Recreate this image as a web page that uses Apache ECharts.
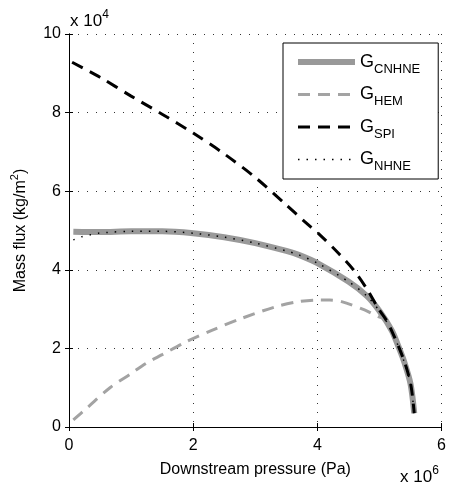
<!DOCTYPE html>
<html>
<head>
<meta charset="utf-8">
<script src="https://cdn.jsdelivr.net/npm/echarts@6/dist/echarts.min.js"></script>
<style>
  html, body { margin: 0; padding: 0; background: #fff; }
  #chart { width: 449px; height: 488px; }
</style>
</head>
<body>
<div id="chart"></div>
<script>
// pressure in units of 1e6 Pa, mass flux in units of 1e4 kg/m2/s
const cnhnePressure = [0.07, 0.5, 1.0, 1.5, 2.0, 2.5, 3.0, 3.5, 3.7, 4.0, 4.5, 4.8, 5.0, 5.2, 5.3, 5.4, 5.5, 5.56];
const cnhneFlux = [4.97, 4.96, 4.98, 4.98, 4.93, 4.83, 4.68, 4.48, 4.38, 4.17, 3.7, 3.33, 2.95, 2.45, 2.07, 1.65, 1.1, 0.35];

const hemPressure = [0.07, 0.3, 0.66, 1.0, 1.25, 1.5, 1.89, 2.3, 2.79, 3.33, 3.7, 4.0, 4.2, 4.39, 4.76, 4.98, 5.1];
const hemFlux = [0.18, 0.5, 1.0, 1.36, 1.63, 1.84, 2.17, 2.46, 2.77, 3.06, 3.19, 3.23, 3.23, 3.19, 2.98, 2.81, 2.75];

const spiPressure = [0.05, 0.5, 1.0, 1.5, 2.0, 2.5, 3.0, 3.5, 3.8, 4.04, 4.34, 4.58, 4.79, 4.98, 5.11, 5.19, 5.32, 5.43, 5.51, 5.56];
const spiFlux = [9.28, 8.9, 8.42, 7.96, 7.48, 6.95, 6.35, 5.65, 5.22, 4.89, 4.42, 4.0, 3.53, 3.02, 2.72, 2.47, 2.0, 1.53, 1.03, 0.35];

const nhnePressure = [0.07, 0.2, 0.34, 0.47, 0.6, 1.0, 1.5, 2.0, 2.5, 3.0, 3.5, 3.7, 4.0, 4.5, 4.8, 5.0, 5.2, 5.3, 5.4, 5.5, 5.56];
const nhneFlux = [4.76, 4.84, 4.89, 4.93, 4.95, 4.98, 4.98, 4.93, 4.83, 4.68, 4.48, 4.38, 4.17, 3.7, 3.33, 2.95, 2.45, 2.07, 1.65, 1.1, 0.35];

const seriesNames = ["CNHNE", "HEM", "SPI", "NHNE"];
const xTicks = [0, 2, 4, 6];
const yTicks = [0, 2, 4, 6, 8, 10];

const font = "Liberation Sans, Arial, sans-serif";

const styles = {
  CNHNE: { color: "#999999", width: 6 },
  HEM: { color: "#a3a3a3", width: 3, type: [12, 8] },
  SPI: { color: "#000", width: 3, type: [12, 8] },
  NHNE: { color: "#000", width: 1.5, type: [1.5, 7] },
};

const pairs = (xs, ys) => xs.map((x, i) => [x, ys[i]]);

const lineSeries = (name, data) => ({
  name,
  type: "line",
  data,
  symbol: "none",
  smooth: 0.3,
  lineStyle: styles[name],
  itemStyle: { color: styles[name].color },
  xAxisIndex: 0,
  yAxisIndex: 0,
  silent: true,
});

const frameAxis = {
  axisLine: { show: true, lineStyle: { color: "#000", width: 1 } },
  axisTick: { show: true, inside: true, length: 4, lineStyle: { color: "#000" } },
  axisLabel: { show: false },
  splitLine: { show: false },
};

const chart = echarts.init(document.getElementById("chart"), null, { renderer: "canvas" });

chart.setOption({
  animation: false,
  backgroundColor: "#fff",
  textStyle: { fontFamily: font },
  grid: { left: 69, right: 5, top: 34, bottom: 61 },
  xAxis: [
    {
      type: "value",
      min: 0,
      max: 6,
      interval: 2,
      name: "Downstream pressure (Pa)",
      nameLocation: "middle",
      nameGap: 35,
      nameTextStyle: { fontSize: 16, color: "#000", fontFamily: font },
      axisLine: { show: true, lineStyle: { color: "#000", width: 1 } },
      axisTick: { show: true, inside: true, length: 4, lineStyle: { color: "#000" } },
      axisLabel: {
        fontSize: 16, color: "#000", margin: 11, fontFamily: font,
        formatter: (v) => (xTicks.includes(v) ? String(v) : ""),
      },
      splitLine: { show: true, lineStyle: { color: "#333", type: [1, 8], width: 1 } },
    },
    Object.assign({ type: "value", min: 0, max: 6, interval: 2, position: "top" }, frameAxis),
  ],
  yAxis: [
    {
      type: "value",
      min: 0,
      max: 10,
      interval: 2,
      name: "{a|Mass flux (kg/m}{s|2}{a|)}",
      nameLocation: "middle",
      nameGap: 37,
      nameTextStyle: {
        color: "#000",
        fontFamily: font,
        rich: {
          a: { fontSize: 16, color: "#000", fontFamily: font },
          s: { fontSize: 11, color: "#000", fontFamily: font, padding: [0, 0, 12, 0] },
        },
      },
      axisLine: { show: true, lineStyle: { color: "#000", width: 1 } },
      axisTick: { show: true, inside: true, length: 4, lineStyle: { color: "#000" } },
      axisLabel: {
        fontSize: 16, color: "#000", margin: 8, fontFamily: font,
        formatter: (v) => (yTicks.includes(v) ? String(v) : ""),
      },
      splitLine: { show: true, lineStyle: { color: "#333", type: [1, 8], width: 1 } },
    },
    Object.assign({ type: "value", min: 0, max: 10, interval: 2, position: "right" }, frameAxis),
  ],
  legend: {
    orient: "vertical",
    left: 283,
    top: 43,
    itemWidth: 57,
    itemHeight: 14,
    itemGap: 10,
    padding: [10, 18, 6, 12],
    borderColor: "#000",
    borderWidth: 1,
    backgroundColor: "#fff",
    itemStyle: { opacity: 0 },
    data: seriesNames.map((name) => ({ name, lineStyle: { width: styles[name].width } })),
    formatter: (name) => `{g|G}{s|${name}}`,
    textStyle: {
      rich: {
        g: { fontSize: 18, color: "#000", fontFamily: font },
        s: { fontSize: 13, color: "#000", fontFamily: font, padding: [14, 0, 0, 0] },
      },
    },
  },
  graphic: [
    {
      type: "text",
      left: 70,
      top: 9,
      style: {
        text: "{a|x 10}{s|4}",
        rich: {
          a: { fontSize: 17, fill: "#000", fontFamily: font },
          s: { fontSize: 12, fill: "#000", fontFamily: font, padding: [0, 0, 12, 0] },
        },
      },
    },
    {
      type: "text",
      left: 400,
      top: 465,
      style: {
        text: "{a|x 10}{s|6}",
        rich: {
          a: { fontSize: 17, fill: "#000", fontFamily: font },
          s: { fontSize: 12, fill: "#000", fontFamily: font, padding: [0, 0, 12, 0] },
        },
      },
    },
  ],
  series: seriesNames.map((name) => {
    if (name === "CNHNE") return lineSeries(name, pairs(cnhnePressure, cnhneFlux));
    if (name === "HEM") return lineSeries(name, pairs(hemPressure, hemFlux));
    if (name === "SPI") return lineSeries(name, pairs(spiPressure, spiFlux));
    return lineSeries(name, pairs(nhnePressure, nhneFlux));
  }),
});
</script>
</body>
</html>
